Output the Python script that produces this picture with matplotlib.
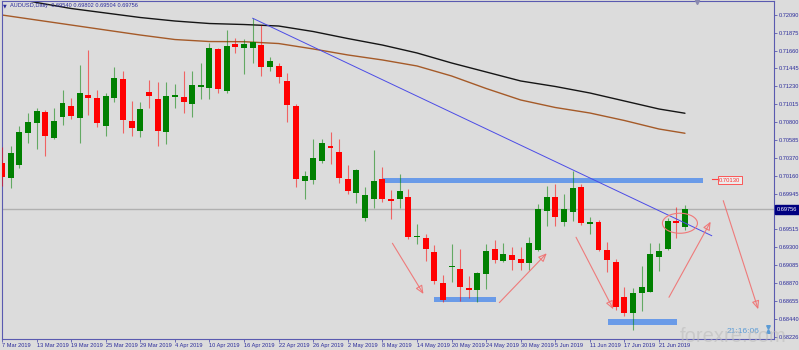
import matplotlib
matplotlib.use("Agg")
import matplotlib.pyplot as plt
import matplotlib.transforms as mtransforms
from matplotlib.patches import Rectangle, Ellipse
from matplotlib.lines import Line2D
import numpy as np

# ---------------- data ----------------
title_text = "AUDUSD,Daily  0.69540 0.69802 0.69504 0.69756"

opens = [0.70308, 0.70132, 0.70288, 0.70668, 0.70788, 0.70920, 0.70611, 0.70860, 0.70995, 0.70848,
         0.71127, 0.71091, 0.70759, 0.71095, 0.71319, 0.70819, 0.70699, 0.71159, 0.71079, 0.70680,
         0.71107, 0.71103, 0.71019, 0.71226, 0.71214, 0.71675, 0.71179, 0.71742, 0.71694, 0.71687,
         0.71726, 0.71466, 0.71475, 0.71295, 0.70999, 0.70092, 0.70108, 0.70332, 0.70519, 0.70441,
         0.70116, 0.69956, 0.69649, 0.69880, 0.70116, 0.69880, 0.69876, 0.69908, 0.69421, 0.69409,
         0.69245, 0.68876, 0.69061, 0.69044, 0.68809, 0.68789, 0.68981, 0.69284, 0.69140, 0.69212,
         0.69161, 0.69109, 0.69269, 0.69740, 0.69900, 0.69608, 0.69728, 0.70020, 0.69580, 0.69601,
         0.69269, 0.69121, 0.68709, 0.68517, 0.68749, 0.68768, 0.69181, 0.69280, 0.69616, 0.69540]
highs = [0.70507, 0.70515, 0.70759, 0.70908, 0.70975, 0.70947, 0.70967, 0.71187, 0.71095, 0.71487,
         0.71666, 0.71187, 0.71151, 0.71466, 0.71415, 0.71055, 0.71039, 0.71307, 0.71286, 0.71286,
         0.71259, 0.71418, 0.71415, 0.71514, 0.71747, 0.71694, 0.71906, 0.71814, 0.71798, 0.72047,
         0.71968, 0.71579, 0.71514, 0.71387, 0.71015, 0.70219, 0.70603, 0.70599, 0.70683, 0.70599,
         0.70288, 0.70240, 0.70020, 0.70468, 0.70260, 0.69988, 0.70180, 0.69996, 0.69580, 0.69460,
         0.69328, 0.68969, 0.69340, 0.69284, 0.68960, 0.69008, 0.69340, 0.69388, 0.69349, 0.69308,
         0.69301, 0.69428, 0.69820, 0.70036, 0.70060, 0.69936, 0.70216, 0.70060, 0.69668, 0.69628,
         0.69368, 0.69157, 0.68828, 0.68809, 0.69080, 0.69349, 0.69356, 0.69652, 0.69780, 0.69802]
lows = [0.70036, 0.70012, 0.70255, 0.70555, 0.70476, 0.70399, 0.70599, 0.70767, 0.70839, 0.70555,
        0.70887, 0.70747, 0.70639, 0.71043, 0.70668, 0.70635, 0.70627, 0.70967, 0.70519, 0.70536,
        0.70967, 0.70908, 0.70860, 0.71075, 0.71079, 0.71147, 0.71147, 0.71627, 0.71379, 0.71514,
        0.71355, 0.71418, 0.71274, 0.70800, 0.70027, 0.69876, 0.70060, 0.70308, 0.70296, 0.70068,
        0.69936, 0.69836, 0.69616, 0.69769, 0.69848, 0.69640, 0.69776, 0.69400, 0.69340, 0.69140,
        0.68857, 0.68641, 0.68888, 0.68657, 0.68697, 0.68641, 0.68801, 0.69109, 0.69125, 0.69029,
        0.69029, 0.69029, 0.69257, 0.69556, 0.69560, 0.69556, 0.69620, 0.69568, 0.69460, 0.69260,
        0.69008, 0.68549, 0.68481, 0.68309, 0.68541, 0.68759, 0.69020, 0.69269, 0.69409, 0.69504]
closes = [0.70140, 0.70435, 0.70683, 0.70800, 0.70935, 0.70635, 0.70815, 0.71027, 0.70875, 0.71155,
          0.71095, 0.70788, 0.71111, 0.71327, 0.70828, 0.70735, 0.70955, 0.71119, 0.70699, 0.71111,
          0.71127, 0.71047, 0.71247, 0.71247, 0.71694, 0.71199, 0.71711, 0.71702, 0.71735, 0.71766,
          0.71466, 0.71535, 0.71339, 0.71003, 0.70120, 0.70156, 0.70375, 0.70555, 0.70488, 0.70135,
          0.69980, 0.70228, 0.69928, 0.70096, 0.69876, 0.69860, 0.69980, 0.69428, 0.69440, 0.69277,
          0.68897, 0.68669, 0.69080, 0.68828, 0.68792, 0.68989, 0.69260, 0.69145, 0.69221, 0.69149,
          0.69109, 0.69356, 0.69757, 0.69900, 0.69668, 0.69757, 0.70008, 0.69589, 0.69604, 0.69269,
          0.69149, 0.68581, 0.68517, 0.68757, 0.68821, 0.69221, 0.69260, 0.69620, 0.69596, 0.69756]

# moving averages read at a few bars
ma_idx = [0, 4, 8, 12, 16, 20, 24, 28, 32, 36, 40, 44, 48, 52, 56, 60, 64, 68, 72, 76, 79]
ma_black = [0.72314, 0.72236, 0.72164, 0.72110, 0.72056, 0.72014, 0.71984, 0.71972, 0.71954, 0.71888,
            0.71804, 0.71726, 0.71631, 0.71511, 0.71403, 0.71295, 0.71229, 0.71151, 0.71055, 0.70959,
            0.70908]
ma_brown = [0.72086, 0.72026, 0.71966, 0.71906, 0.71846, 0.71792, 0.71768, 0.71766, 0.71744, 0.71679,
            0.71607, 0.71547, 0.71475, 0.71355, 0.71205, 0.71067, 0.70977, 0.70911, 0.70821, 0.70719,
            0.70668]

date_idx = list(range(0, 80, 4))
date_labels = ["7 Mar 2019", "13 Mar 2019", "19 Mar 2019", "25 Mar 2019", "29 Mar 2019",
               "4 Apr 2019", "10 Apr 2019", "16 Apr 2019", "22 Apr 2019", "26 Apr 2019",
               "2 May 2019", "8 May 2019", "14 May 2019", "20 May 2019", "24 May 2019",
               "30 May 2019", "5 Jun 2019", "11 Jun 2019", "17 Jun 2019", "21 Jun 2019"]

price_ticks = [0.72090, 0.71875, 0.71660, 0.71445, 0.71230, 0.71015, 0.70800, 0.70585, 0.70370,
               0.70160, 0.69945, 0.69515, 0.69300, 0.69085, 0.68870, 0.68655, 0.68440, 0.68226]
price_labels = ["0.72090", "0.71875", "0.71660", "0.71445", "0.71230", "0.71015", "0.70800",
                "0.70585", "0.70370", "0.70160", "0.69945", "0.69515", "0.69300", "0.69085",
                "0.68870", "0.68655", "0.68440", "0.68226"]

current_price = 0.69756
current_label = "0.69756"

# trendline (bar index, price)
trend_x = [29, 82.09]
trend_y = [0.72047, 0.69440]

# zones: (x0, x1, y_low, y_high)
zone_upper = (44.09, 81.12, 0.70076, 0.70128)
zone_may = (50.02, 57.12, 0.68645, 0.68701)
zone_june = (70.06, 78.04, 0.68366, 0.68441)
zone_label = "0.70130"

# arrows: (x0, y0, x1, y1)
arrows = [(45.16, 0.69349, 48.75, 0.68741),
          (57.53, 0.68637, 63.01, 0.69229),
          (66.40, 0.69421, 70.71, 0.68558),
          (77.15, 0.68701, 81.97, 0.69608),
          (83.43, 0.69860, 87.47, 0.68558)]

ellipse_center = (78.42, 0.69589)
ellipse_size = (4.05, 0.0024)

clock_text = "21:16:06"
watermark = "forexre.com"

# ---------------- style ----------------
BG = "#dcdcdc"
FRAME = "#5a5ab0"
NAVY = "#2a2a9a"
GREEN = "#008000"
RED = "#ff0000"
FONT = ["Liberation Sans", "DejaVu Sans"]

W, H = 799, 350
fig = plt.figure(figsize=(W / 100, H / 100), dpi=100)
fig.patch.set_facecolor(BG)
ax = fig.add_axes([2 / W, 11 / H, 772 / W, 338 / H])
ax.set_facecolor(BG)
ax.set_xlim(0.04, 89.3)
ax.set_ylim(0.68201, 0.72254)

for s in ax.spines.values():
    s.set_color(FRAME)
    s.set_linewidth(0.8)

x = np.arange(len(opens))
o = np.array(opens); c = np.array(closes); hi = np.array(highs); lo = np.array(lows)
up = c >= o
cols = np.where(up, GREEN, RED)
bottoms = np.minimum(o, c)
heights = np.maximum(np.abs(c - o), 0.00012)

ax.vlines(x, lo, hi, colors=cols, linewidth=0.8, alpha=0.55, zorder=3)
ax.bar(x, heights, bottom=bottoms, width=0.69, color=cols, linewidth=0, zorder=4)

# moving averages
ax.plot(ma_idx, ma_black, color="#151515", linewidth=1.0, zorder=2, solid_capstyle="round")
ax.plot(ma_idx, ma_brown, color="#a55a28", linewidth=1.0, zorder=2, solid_capstyle="round")

# current price line
ax.axhline(current_price, color="#b0b0b0", linewidth=1.0, zorder=1)

# zones
for (x0, x1, y0, y1) in [zone_upper, zone_may, zone_june]:
    ax.add_patch(Rectangle((x0, y0), x1 - x0, y1 - y0, facecolor="#6a9be8", edgecolor="none", zorder=2))

# trendline
ax.plot(trend_x, trend_y, color="#4b4be6", linewidth=0.7, zorder=5)

# arrows
for (x0, y0, x1, y1) in arrows:
    ax.annotate("", xy=(x1, y1), xytext=(x0, y0),
                arrowprops=dict(arrowstyle="-|>,head_length=0.5,head_width=0.22", color="#f07070",
                                linewidth=0.8, alpha=0.9, shrinkA=0, shrinkB=0, fc="none"),
                zorder=6)

# ellipse
ax.add_patch(Ellipse(ellipse_center, ellipse_size[0], ellipse_size[1], facecolor="none",
                     edgecolor="#f07878", linewidth=0.8, zorder=6))

# zone price label
ax.plot([82.16, 82.74], [0.70116, 0.70116], color="#ff4040", linewidth=0.8, zorder=6)
ax.text(82.95, 0.70106, zone_label, fontsize=4.2, color="#ff3030", family=FONT, va="center", ha="left",
        zorder=7, bbox=dict(boxstyle="square,pad=0.25", fc="#ececec", ec="#ff4040", lw=0.6))

# axes ticks
ax.yaxis.tick_right()
ax.set_yticks(price_ticks)
ax.set_yticklabels(price_labels, fontsize=4.1, color=NAVY, family=FONT)
ax.tick_params(axis="y", length=2, width=0.6, color=FRAME, pad=1.2)

ax.set_xticks(date_idx)
ax.set_xticklabels(date_labels, fontsize=4.1, color=NAVY, family=FONT, ha="left")
ax.tick_params(axis="x", length=2.2, width=0.6, color=FRAME, pad=0.6)

# current price box
trans = mtransforms.blended_transform_factory(ax.transAxes, ax.transData)
ax.text(1.004, current_price, current_label, transform=trans, fontsize=4.1, color="white", family=FONT,
        va="center", ha="left", clip_on=False, zorder=10,
        bbox=dict(boxstyle="square,pad=0.35", fc="#000080", ec="#000080"))

# title
fig.text(4.7 / W, 1 - 5.7 / H, "\u25BC", fontsize=3.5, color=NAVY, family="DejaVu Sans", ha="center", va="center")
fig.text(10 / W, 1 - 5.7 / H, title_text, fontsize=4.1, color=NAVY, family=FONT, ha="left", va="center")

# chart shift marker
fig.add_artist(Line2D([696.5 / W], [1 - 2 / H], marker="v", markersize=3, color="#8a8ab0", linestyle="none"))

# clock and watermark
fig.text(726.7 / W, 1 - 333.3 / H, clock_text, fontsize=6, color="#5b9bd5", family=FONT, ha="left", va="baseline")
fig.add_artist(Line2D([767.5 / W], [1 - 327 / H], marker="v", markersize=2.6, color="#5b9bd5", linestyle="none"))
fig.add_artist(Line2D([767.5 / W], [1 - 331 / H], marker="^", markersize=2.6, color="#5b9bd5", linestyle="none"))
fig.text(680 / W, 1 - 342.5 / H, watermark, fontsize=14.5, color="#bdbdbd", alpha=0.6, family=FONT,
         ha="left", va="baseline")

fig.savefig("out.png", dpi=100, facecolor=BG)
